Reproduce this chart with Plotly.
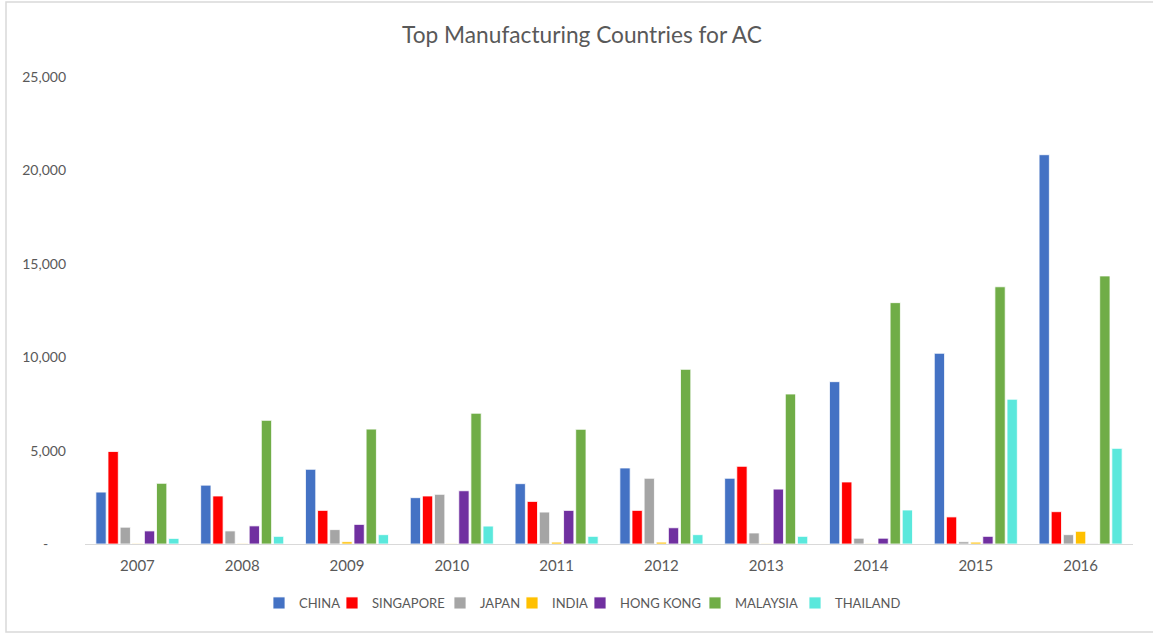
import plotly.graph_objects as go

years = ["2007", "2008", "2009", "2010", "2011", "2012", "2013", "2014", "2015", "2016"]
china = [2780, 3150, 4000, 2480, 3230, 4070, 3520, 8690, 10210, 20840]
singapore = [4950, 2570, 1800, 2570, 2280, 1800, 4160, 3320, 1450, 1730]
japan = [900, 700, 770, 2660, 1710, 3520, 590, 310, 120, 500]
india = [30, 30, 120, 20, 100, 100, 20, 20, 100, 680]
hong_kong = [700, 970, 1050, 2850, 1800, 870, 2940, 310, 410, 10]
malaysia = [3250, 6620, 6150, 7000, 6140, 9350, 8030, 12920, 13770, 14350]
thailand = [300, 410, 500, 960, 410, 500, 410, 1820, 7750, 5120]

series_names = ["CHINA", "SINGAPORE", "JAPAN", "INDIA", "HONG KONG", "MALAYSIA", "THAILAND"]
series_values = [china, singapore, japan, india, hong_kong, malaysia, thailand]
series_colors = ["#4472C4", "#FF0000", "#A5A5A5", "#FFC000", "#7030A0", "#70AD47", "#5AE8DC"]

y_ticks = [0, 5000, 10000, 15000, 20000, 25000]
y_ticktext = ["-" + "\u00a0" * 5, "5,000", "10,000", "15,000", "20,000", "25,000"]

FONT = "Lato, 'Open Sans', sans-serif"
GREY = "#595959"

W, H = 1153, 634
L, R, T, B = 85, 20, 77, 90
pw, ph = W - L - R, H - T - B

# legend square pixel centres (layout only)
legend_px = [284, 357, 465, 537, 605, 720, 820]

fig = go.Figure()
layout_legends = {}
for i, (name, vals, color) in enumerate(zip(series_names, series_values, series_colors)):
    key = "legend" if i == 0 else f"legend{i + 1}"
    fig.add_trace(go.Bar(
        x=years, y=vals, name=name, legend=key, showlegend=True,
        marker=dict(color=color, line=dict(color="white", width=0.8)),
    ))
    box_left = legend_px[i] - 5 - 20
    layout_legends[key] = dict(
        orientation="h", x=(box_left - L) / pw, xanchor="left",
        y=(T + ph - 603) / ph, yanchor="middle",
        font=dict(family=FONT, size=13, color=GREY),
        itemwidth=30, bgcolor="rgba(0,0,0,0)", borderwidth=0,
    )

fig.update_layout(
    width=W, height=H,
    margin=dict(l=L, r=R, t=T, b=B),
    showlegend=True,
    paper_bgcolor="white", plot_bgcolor="white",
    barmode="group", bargap=0.19, bargroupgap=0.15,
    title=dict(text="Top Manufacturing Countries for AC", x=582 / W, xanchor="center",
               y=1 - 35 / H, yanchor="middle",
               font=dict(family=FONT, size=22.7, color=GREY)),
    font=dict(family=FONT, size=13, color=GREY),
    xaxis=dict(showgrid=False, showline=True, linecolor="#D9D9D9", linewidth=1,
               ticks="", ticklabelstandoff=8,
               tickfont=dict(family=FONT, size=15, color=GREY)),
    yaxis=dict(range=[0, 25000], tickvals=y_ticks, ticktext=y_ticktext,
               showgrid=False, zeroline=False, showline=False, ticks="",
               ticklabelstandoff=18,
               tickfont=dict(family=FONT, size=14, color=GREY)),
    shapes=[dict(type="rect", xref="paper", yref="paper",
                 x0=(6 - L) / pw, x1=(1170 - L) / pw,
                 y0=(T + ph - 632) / ph, y1=(T + ph - 2) / ph,
                 line=dict(color="#D9D9D9", width=1.5), fillcolor="rgba(0,0,0,0)",
                 layer="below")],
    **layout_legends,
)

fig.write_html("out.html", config={"displayModeBar": False},
               post_script="document.body.style.margin='0';document.body.style.overflow='hidden';")
